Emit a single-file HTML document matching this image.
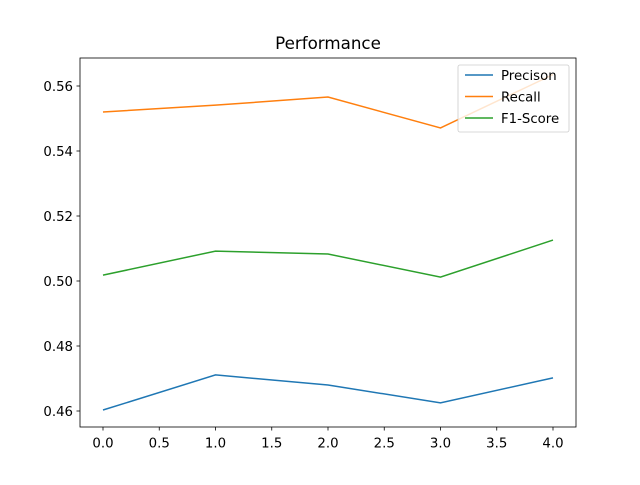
<!DOCTYPE html>
<html><head><meta charset="utf-8"><style>
body{margin:0;background:#fff}
svg text{font-family:"DejaVu Sans","Liberation Sans",sans-serif;fill:#000}
</style></head><body>
<svg id="chart" width="640" height="480" xmlns="http://www.w3.org/2000/svg">
<rect width="640" height="480" fill="#fff"/>
<text x="328" y="49" font-size="16.7" text-anchor="middle">Performance</text>
<g id="plot"></g>
<rect x="80" y="58" width="496" height="369" fill="none" stroke="#000" stroke-width="0.8"/>
<g id="legend"></g>
</svg>
<script>
const categories=[0,1,2,3,4];
const precision=[0.4603,0.4711,0.4680,0.4625,0.4702];
const recall=[0.5520,0.5541,0.5566,0.5471,0.5635];
const f1=[0.5018,0.5092,0.5083,0.5012,0.5126];
const xTicks=[0,0.5,1,1.5,2,2.5,3,3.5,4];
const yTicks=[0.46,0.48,0.50,0.52,0.54,0.56];
const seriesNames=["Precison","Recall","F1-Score"];
const colors=["#1f77b4","#ff7f0e","#2ca02c"];
const NS="http://www.w3.org/2000/svg";
const xs=v=>103+v*112.5;
const ys=v=>411-(v-0.46)*3250;
const plot=document.getElementById('plot');
function mk(t,a,p){const e=document.createElementNS(NS,t);for(const k in a)e.setAttribute(k,a[k]);(p||plot).appendChild(e);return e;}
xTicks.forEach(t=>{
 const l=mk('line',{x1:xs(t),x2:xs(t),y1:427,y2:430.5,stroke:'#000','stroke-width':0.8});
 
 
 const tx=mk('text',{x:xs(t),y:447.5,'font-size':13.3,'text-anchor':'middle'});tx.textContent=t.toFixed(1);
 
 
});
yTicks.forEach(t=>{
 const l=mk('line',{x1:76.5,x2:80,y1:ys(t),y2:ys(t),stroke:'#000','stroke-width':0.8});
 
 
 const tx=mk('text',{x:73,y:ys(t)+5,'font-size':13.3,'text-anchor':'end'});tx.textContent=t.toFixed(2);
 
 
});
[precision,recall,f1].forEach((s,i)=>{
 const p=mk('polyline',{points:s.map((v,j)=>xs(categories[j])+','+ys(v)).join(' '),fill:'none',stroke:colors[i],'stroke-width':1.5});
 
 
});
const lg=document.getElementById('legend');
mk('rect',{x:458,y:65,width:111,height:67,rx:2,fill:'#fff','fill-opacity':0.8,stroke:'#ccc','stroke-width':0.8},lg);
seriesNames.forEach((n,i)=>{
 const y=75+i*21.5;
 const l=mk('line',{x1:465,x2:493,y1:y,y2:y,stroke:colors[i],'stroke-width':1.5},lg);
 
 
 const t=mk('text',{x:501,y:y+5,'font-size':13.3},lg);t.textContent=n;
 
 
});
</script>
</body></html>
